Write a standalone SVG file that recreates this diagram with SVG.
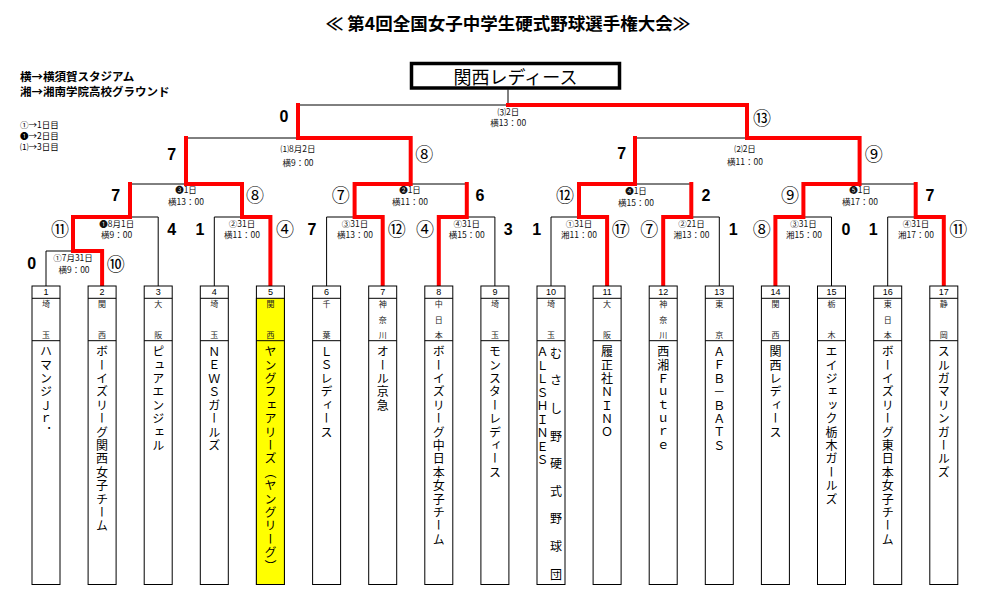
<svg xmlns="http://www.w3.org/2000/svg" width="997" height="590" viewBox="0 0 997 590">
<style>
text{font-family:"Noto Sans CJK JP","Liberation Sans",sans-serif;fill:#000;dominant-baseline:central}
.title{font-size:17.5px;font-weight:bold;text-anchor:middle}
.leg{font-size:11.5px;font-weight:bold}
.leg2{font-size:8.5px}
.champ{font-size:18px;text-anchor:middle}
.sc{font-family:"Liberation Sans","Noto Sans CJK JP",sans-serif;font-size:16px;font-weight:bold;text-anchor:middle}
.cn{font-size:18px;text-anchor:middle}
.ml{font-size:8.5px;text-anchor:middle;fill:#111}
.num{font-family:"Liberation Sans",sans-serif;font-size:9px;text-anchor:middle}
.pf{font-size:8px;text-anchor:middle;fill:#222}
.nm{font-size:12px;writing-mode:vertical-rl;text-orientation:upright;letter-spacing:1.4px;dominant-baseline:auto}
.nh{font-size:12px;text-anchor:middle}
.box{fill:#fff;stroke:#000;stroke-width:1}
.blk{fill:none;stroke:#000;stroke-width:1}
.red{fill:none;stroke:#f00;stroke-width:4;stroke-linecap:square;stroke-linejoin:miter}
</style>

<text class="title" x="508" y="22.5">≪ 第4回全国女子中学生硬式野球選手権大会≫</text>

<g id="legend">
<text class="leg" x="20" y="75.8">横→横須賀スタジアム</text>
<text class="leg" x="20" y="90.5">湘→湘南学院高校グラウンド</text>
<text class="leg2" x="20" y="123.8">①→1日目</text>
<text class="leg2" x="20" y="135">❶→2日目</text>
<text class="leg2" x="20" y="146.2">⑴→3日目</text>
</g>

<g id="champion">
<rect x="411.5" y="63.5" width="208" height="24.5" fill="#fff" stroke="#000" stroke-width="3.5"/>
<text class="champ" x="515.5" y="75.5">関西レディース</text>
</g>

<g id="connectors">
<path class="blk" d="M46 286V251H102.1V286M73 251V217M73 217H158.2V286M130 217V184M214.3 286V217H270.4V286M242 217V184M130 184H242M186 184V138M326.6 286V217H382.7V286M354.6 217V184M438.8 286V217H494.9V286M466.8 217V184M354.6 184H466.8M410.7 184V138M186 138H410.7M298 138V105M551 286V217H607.1V286M579 217V184M663.2 286V217H719.3V286M691.3 217V184M579 184H691.3M635 184V138M775.4 286V217H831.5V286M803.4 217V184M887.7 286V217H943.8V286M915.7 217V184M803.4 184H915.7M859.6 184V138M635 138H859.6M747 138V105M298 105H747M508 105V89.5"/>
<path class="red" d="M102.1 285V251H73V217H130V184"/>
<path class="red" d="M270.4 285V217H242V184H186V138"/>
<path class="red" d="M382.7 285V217H354.6V184H410.7V138H298V105"/>
<path class="red" d="M438.8 285V217H466.8V184"/>
<path class="red" d="M607.1 285V217H579V184H635V138"/>
<path class="red" d="M663.2 285V217H691.3V184"/>
<path class="red" d="M775.4 285V217H803.4V184H859.6V138H747V105H508"/>
<path class="red" d="M943.8 285V217H915.7V184"/>
</g>

<g id="match-labels">
<text class="ml"><tspan x="73" y="256.7">①7月31日</tspan><tspan x="74" y="269">横9：00</tspan></text>
<text class="ml"><tspan x="116.7" y="223.3">❶8月1日</tspan><tspan x="116.7" y="234">横9：00</tspan></text>
<text class="ml"><tspan x="186" y="189.3">❸1日</tspan><tspan x="186" y="200.7">横13：00</tspan></text>
<text class="ml"><tspan x="242" y="223.3">②31日</tspan><tspan x="242" y="234">横11：00</tspan></text>
<text class="ml"><tspan x="355" y="223">③31日</tspan><tspan x="355" y="234">横13：00</tspan></text>
<text class="ml"><tspan x="410" y="189.3">❷1日</tspan><tspan x="410" y="200.7">横11：00</tspan></text>
<text class="ml"><tspan x="466.7" y="223">④31日</tspan><tspan x="466.7" y="234">横15：00</tspan></text>
<text class="ml"><tspan x="579" y="223">①31日</tspan><tspan x="579" y="234">湘11：00</tspan></text>
<text class="ml"><tspan x="636" y="190">❹1日</tspan><tspan x="636" y="201.5">横15：00</tspan></text>
<text class="ml"><tspan x="691.5" y="223">②21日</tspan><tspan x="691.5" y="234">湘13：00</tspan></text>
<text class="ml"><tspan x="803.5" y="223">③31日</tspan><tspan x="804" y="234">湘15：00</tspan></text>
<text class="ml"><tspan x="860" y="189.3">❺1日</tspan><tspan x="860" y="200.7">横17：00</tspan></text>
<text class="ml"><tspan x="916" y="223">④31日</tspan><tspan x="916" y="234">湘17：00</tspan></text>
<text class="ml"><tspan x="298" y="148.3">⑴8月2日</tspan><tspan x="298" y="161.7">横9：00</tspan></text>
<text class="ml"><tspan x="745" y="148.3">⑵2日</tspan><tspan x="745" y="160.5">横11：00</tspan></text>
<text class="ml"><tspan x="508.3" y="111">⑶2日</tspan><tspan x="508.3" y="121.7">横13：00</tspan></text>
</g>

<g id="scores">
<text class="sc" x="284" y="116.7">0</text><text class="cn" x="762" y="116.7">⑬</text>
<text class="sc" x="171.7" y="154">7</text><text class="cn" x="424.3" y="153.3">⑧</text>
<text class="sc" x="621.7" y="153.3">7</text><text class="cn" x="873.7" y="152.7">⑨</text>
<text class="sc" x="115.7" y="195">7</text><text class="cn" x="255" y="194">⑧</text>
<text class="cn" x="340.7" y="194">⑦</text><text class="sc" x="480" y="195">6</text>
<text class="cn" x="565" y="194">⑫</text><text class="sc" x="706" y="195">2</text>
<text class="cn" x="790" y="194">⑨</text><text class="sc" x="930" y="195">7</text>
<text class="cn" x="60" y="228.3">⑪</text><text class="sc" x="171.7" y="229.3">4</text>
<text class="sc" x="200" y="229.3">1</text><text class="cn" x="285" y="228.3">④</text>
<text class="sc" x="312" y="229.3">7</text><text class="cn" x="396.7" y="228.3">⑫</text>
<text class="cn" x="425" y="228.3">④</text><text class="sc" x="508.3" y="229.3">3</text>
<text class="sc" x="536.7" y="229.3">1</text><text class="cn" x="620.7" y="228.3">⑰</text>
<text class="cn" x="649.3" y="228.3">⑦</text><text class="sc" x="733.3" y="229.3">1</text>
<text class="cn" x="761.7" y="228.3">⑧</text><text class="sc" x="846" y="229.3">0</text>
<text class="sc" x="873.3" y="229.3">1</text><text class="cn" x="958.3" y="228.3">⑪</text>
<text class="sc" x="31.7" y="263.3">0</text><text class="cn" x="115.7" y="262.7">⑩</text>
</g>

<g id="team-1"><rect class="box" x="32" y="286" width="28" height="298.5"/><path class="blk" d="M32 298.3H60M32 340.7H60"/><text class="num" x="46" y="292">1</text><text class="pf"><tspan x="46" y="303.3">埼</tspan><tspan x="46" y="334">玉</tspan></text><text class="nm" x="46" y="345.7">ハマンジＪｒ．</text></g>
<g id="team-2"><rect class="box" x="88.1" y="286" width="28" height="298.5"/><path class="blk" d="M88.1 298.3H116.1M88.1 340.7H116.1"/><text class="num" x="102.1" y="292">2</text><text class="pf"><tspan x="102.1" y="303.3">関</tspan><tspan x="102.1" y="334">西</tspan></text><text class="nm" x="102.1" y="345.7">ボーイズリーグ関西女子チーム</text></g>
<g id="team-3"><rect class="box" x="144.2" y="286" width="28" height="298.5"/><path class="blk" d="M144.2 298.3H172.2M144.2 340.7H172.2"/><text class="num" x="158.2" y="292">3</text><text class="pf"><tspan x="158.2" y="303.3">大</tspan><tspan x="158.2" y="334">阪</tspan></text><text class="nm" x="158.2" y="345.7">ピュアエンジェル</text></g>
<g id="team-4"><rect class="box" x="200.3" y="286" width="28" height="298.5"/><path class="blk" d="M200.3 298.3H228.3M200.3 340.7H228.3"/><text class="num" x="214.3" y="292">4</text><text class="pf"><tspan x="214.3" y="303.3">埼</tspan><tspan x="214.3" y="334">玉</tspan></text><text class="nm" x="214.3" y="345.7">ＮＥＷＳガールズ</text></g>
<g id="team-5"><rect class="box" x="256.4" y="286" width="28" height="298.5"/><rect x="256.4" y="298.3" width="28" height="286.2" fill="#ff0" stroke="#000" stroke-width="1"/><path class="blk" d="M256.4 340.7H284.4"/><text class="num" x="270.4" y="292">5</text><text class="pf"><tspan x="270.4" y="303.3">関</tspan><tspan x="270.4" y="334">西</tspan></text><text class="nm" x="270.4" y="345.7">ヤングフェアリーズ（ヤングリーグ）</text></g>
<g id="team-6"><rect class="box" x="312.6" y="286" width="28" height="298.5"/><path class="blk" d="M312.6 298.3H340.6M312.6 340.7H340.6"/><text class="num" x="326.6" y="292">6</text><text class="pf"><tspan x="326.6" y="303.3">千</tspan><tspan x="326.6" y="334">葉</tspan></text><text class="nm" x="326.6" y="345.7">ＬＳレディース</text></g>
<g id="team-7"><rect class="box" x="368.7" y="286" width="28" height="298.5"/><path class="blk" d="M368.7 298.3H396.7M368.7 340.7H396.7"/><text class="num" x="382.7" y="292">7</text><text class="pf"><tspan x="382.7" y="303.3">神</tspan><tspan x="382.7" y="319">奈</tspan><tspan x="382.7" y="334">川</tspan></text><text class="nm" x="382.7" y="345.7">オール京急</text></g>
<g id="team-8"><rect class="box" x="424.8" y="286" width="28" height="298.5"/><path class="blk" d="M424.8 298.3H452.8M424.8 340.7H452.8"/><text class="num" x="438.8" y="292">8</text><text class="pf"><tspan x="438.8" y="303.3">中</tspan><tspan x="438.8" y="319">日</tspan><tspan x="438.8" y="334">本</tspan></text><text class="nm" x="438.8" y="345.7">ボーイズリーグ中日本女子チーム</text></g>
<g id="team-9"><rect class="box" x="480.9" y="286" width="28" height="298.5"/><path class="blk" d="M480.9 298.3H508.9M480.9 340.7H508.9"/><text class="num" x="494.9" y="292">9</text><text class="pf"><tspan x="494.9" y="303.3">埼</tspan><tspan x="494.9" y="334">玉</tspan></text><text class="nm" x="494.9" y="345.7">モンスターレディース</text></g>
<g id="team-10"><rect class="box" x="537" y="286" width="28" height="298.5"/><path class="blk" d="M537 298.3H565M537 340.7H565"/><text class="num" x="551" y="292">10</text><text class="pf"><tspan x="551" y="303.3">埼</tspan><tspan x="551" y="334">玉</tspan></text><text class="nm" x="542.5" y="345.7" style="letter-spacing:1.5px">ＡＬＬＳＨＩＮＥＳ</text><text class="nh"><tspan x="556" y="351.7">む</tspan><tspan x="556" y="379.3">さ</tspan><tspan x="556" y="406.9">し</tspan><tspan x="556" y="434.5">野</tspan><tspan x="556" y="462.1">硬</tspan><tspan x="556" y="489.7">式</tspan><tspan x="556" y="517.3">野</tspan><tspan x="556" y="544.9">球</tspan><tspan x="556" y="572.5">団</tspan></text></g>
<g id="team-11"><rect class="box" x="593.1" y="286" width="28" height="298.5"/><path class="blk" d="M593.1 298.3H621.1M593.1 340.7H621.1"/><text class="num" x="607.1" y="292">11</text><text class="pf"><tspan x="607.1" y="303.3">大</tspan><tspan x="607.1" y="334">阪</tspan></text><text class="nm" x="607.1" y="345.7">履正社ＮＩＮＯ</text></g>
<g id="team-12"><rect class="box" x="649.2" y="286" width="28" height="298.5"/><path class="blk" d="M649.2 298.3H677.2M649.2 340.7H677.2"/><text class="num" x="663.2" y="292">12</text><text class="pf"><tspan x="663.2" y="303.3">神</tspan><tspan x="663.2" y="319">奈</tspan><tspan x="663.2" y="334">川</tspan></text><text class="nm" x="663.2" y="345.7">西湘Ｆｕｔｕｒｅ</text></g>
<g id="team-13"><rect class="box" x="705.3" y="286" width="28" height="298.5"/><path class="blk" d="M705.3 298.3H733.3M705.3 340.7H733.3"/><text class="num" x="719.3" y="292">13</text><text class="pf"><tspan x="719.3" y="303.3">東</tspan><tspan x="719.3" y="334">京</tspan></text><text class="nm" x="719.3" y="345.7">ＡＦＢ－ＢＡＴＳ</text></g>
<g id="team-14"><rect class="box" x="761.4" y="286" width="28" height="298.5"/><path class="blk" d="M761.4 298.3H789.4M761.4 340.7H789.4"/><text class="num" x="775.4" y="292">14</text><text class="pf"><tspan x="775.4" y="303.3">関</tspan><tspan x="775.4" y="334">西</tspan></text><text class="nm" x="775.4" y="345.7">関西レディース</text></g>
<g id="team-15"><rect class="box" x="817.5" y="286" width="28" height="298.5"/><path class="blk" d="M817.5 298.3H845.5M817.5 340.7H845.5"/><text class="num" x="831.5" y="292">15</text><text class="pf"><tspan x="831.5" y="303.3">栃</tspan><tspan x="831.5" y="334">木</tspan></text><text class="nm" x="831.5" y="345.7">エイジェック栃木ガールズ</text></g>
<g id="team-16"><rect class="box" x="873.7" y="286" width="28" height="298.5"/><path class="blk" d="M873.7 298.3H901.7M873.7 340.7H901.7"/><text class="num" x="887.7" y="292">16</text><text class="pf"><tspan x="887.7" y="303.3">東</tspan><tspan x="887.7" y="319">日</tspan><tspan x="887.7" y="334">本</tspan></text><text class="nm" x="887.7" y="345.7">ボーイズリーグ東日本女子チーム</text></g>
<g id="team-17"><rect class="box" x="929.8" y="286" width="28" height="298.5"/><path class="blk" d="M929.8 298.3H957.8M929.8 340.7H957.8"/><text class="num" x="943.8" y="292">17</text><text class="pf"><tspan x="943.8" y="303.3">静</tspan><tspan x="943.8" y="334">岡</tspan></text><text class="nm" x="943.8" y="345.7">スルガマリンガールズ</text></g>
</svg>
